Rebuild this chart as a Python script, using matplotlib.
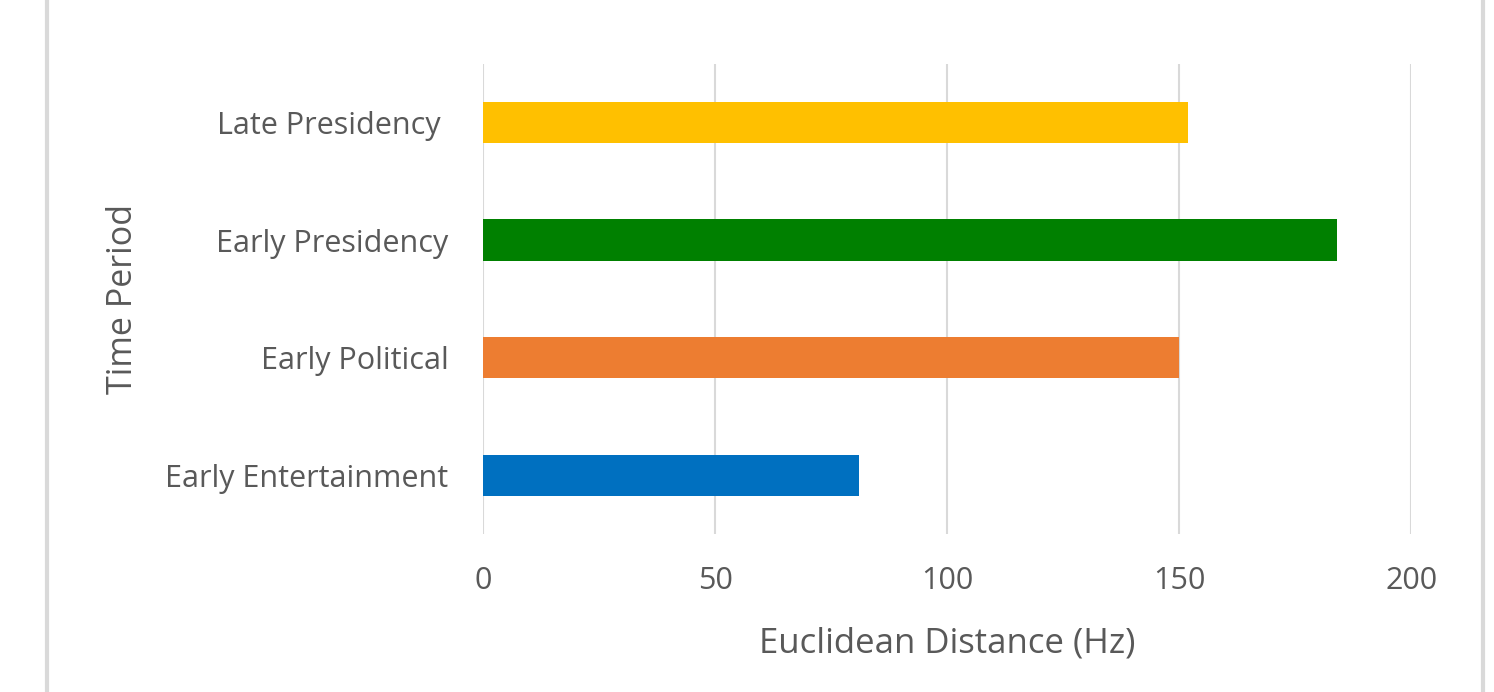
import matplotlib
matplotlib.use('Agg')
from matplotlib import pyplot as plt
from matplotlib.lines import Line2D

plt.rcParams['font.family'] = ['Open Sans', 'DejaVu Sans']

# Mean distance per period
periods = ['Early Entertainment', 'Early Political', 'Early Presidency', 'Late Presidency ']
distances = [81, 150, 184, 152]
colors = ['#0070C0', '#ED7D31', '#008000', '#FFC000']
x_ticks = [0, 50, 100, 150, 200]

text_grey = '#595959'
grid_grey = '#D9D9D9'

fig = plt.figure(figsize=(14.94, 6.92), dpi=100)
ax = fig.add_axes([0.3233, 0.2283, 0.6212, 0.6797])

ax.barh(range(len(periods)), distances, height=0.35, color=colors, zorder=3)

ax.set_xlim(0, 200)
ax.set_ylim(-0.5, len(periods) - 0.5)
ax.set_xticks(x_ticks)
ax.set_yticks(range(len(periods)))
ax.set_yticklabels(periods)
ax.grid(axis='x', color=grid_grey, linewidth=1.5, zorder=0)
ax.tick_params(axis='both', length=0, labelsize=22, labelcolor=text_grey)
ax.tick_params(axis='y', pad=25)
ax.tick_params(axis='x', pad=23)
for s in ax.spines.values():
    s.set_visible(False)

ax.set_xlabel('Euclidean Distance (Hz)', fontsize=25, color=text_grey, labelpad=22)
ax.set_ylabel('Time Period', fontsize=24.5, color=text_grey, labelpad=18)

# chart frame edges
for xf in (47 / 1494, 1483 / 1494):
    fig.add_artist(Line2D([xf, xf], [0, 1], transform=fig.transFigure,
                          color=grid_grey, linewidth=3))

fig.savefig('out.png', dpi=100, facecolor='white')
